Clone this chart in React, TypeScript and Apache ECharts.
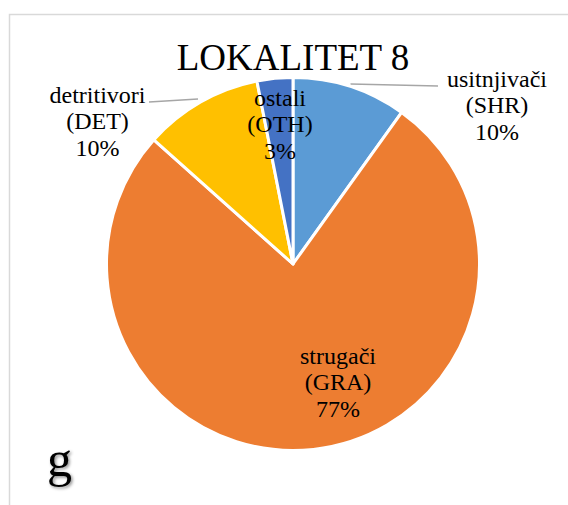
import React, { useEffect, useRef } from "react";
import * as echarts from "echarts";

const categories = ["usitnjivači", "strugači", "detritivori", "ostali"];
const codes = ["SHR", "GRA", "DET", "OTH"];
const values = [9.9, 76.7, 10.3, 3.1];
const colors = ["#5B9BD5", "#ED7D31", "#FFC000", "#4472C4"];
const titleText = "LOKALITET 8";
const panelLetter = "g";

const FONT = "Liberation Serif, Times New Roman, serif";

// label anchor (block centre) and leader line per slice
const labelPlacement = [
  { x: 497, y: 105, line: [[350.5, 84], [438, 86]] },
  { x: 338, y: 382, line: null },
  { x: 97.5, y: 121, line: [[149, 102], [198, 99]] },
  { x: 280, y: 124, line: null },
];

export default function App() {
  const ref = useRef<HTMLDivElement>(null);
  useEffect(() => {
    if (!ref.current) return;
    const chart = echarts.init(ref.current, null, { renderer: "svg" });
    chart.setOption({
      animation: false,
      backgroundColor: "#ffffff",
      textStyle: { fontFamily: FONT },
      graphic: [
        {
          type: "rect",
          shape: { x: 9.5, y: 14.5, width: 700, height: 700 },
          style: { fill: "none", stroke: "#d9d9d9", lineWidth: 1.5 },
          silent: true,
        },
        {
          type: "text",
          x: 293,
          y: 57.5,
          style: {
            text: titleText,
            fontFamily: FONT,
            fontSize: 37,
            fill: "#000000",
            align: "center",
            verticalAlign: "middle",
          },
        },
        {
          type: "text",
          x: 47,
          y: 459,
          style: {
            text: panelLetter,
            fontFamily: FONT,
            fontSize: 50,
            fill: "#000000",
            align: "left",
            verticalAlign: "middle",
            textShadowColor: "rgba(0,0,0,0.45)",
            textShadowBlur: 3,
            textShadowOffsetX: 1.5,
            textShadowOffsetY: 1.5,
          },
        },
      ],
      series: [
        {
          type: "pie",
          center: [293, 264],
          radius: 186.5,
          startAngle: 90,
          clockwise: true,
          avoidLabelOverlap: false,
          itemStyle: { borderColor: "#ffffff", borderWidth: 3 },
          emphasis: { disabled: true },
          label: {
            show: true,
            fontFamily: FONT,
            fontSize: 24,
            lineHeight: 26.5,
            color: "#000000",
            align: "center",
            formatter: (p: any) =>
              `${p.name}\n(${codes[p.dataIndex]})\n${Math.round(p.percent)}%`,
          },
          labelLine: {
            show: true,
            lineStyle: { color: "#a6a6a6", width: 1.5 },
          },
          labelLayout: (params: any) => {
            const lp = labelPlacement[params.dataIndex];
            const res: any = {
              x: lp.x,
              y: lp.y,
              align: "center",
              verticalAlign: "middle",
            };
            if (lp.line) res.labelLinePoints = [lp.line[0], lp.line[0], lp.line[1]];
            return res;
          },
          data: categories.map((name, i) => ({
            name,
            value: values[i],
            itemStyle: { color: colors[i] },
            label: { position: labelPlacement[i].line ? "outside" : "inside" },
            labelLine: { show: !!labelPlacement[i].line },
          })),
        },
      ],
    });
    return () => chart.dispose();
  }, []);
  return (
    <div
      ref={ref}
      style={{ position: "absolute", left: 0, top: 0, width: 568, height: 505, background: "#fff" }}
    />
  );
}
